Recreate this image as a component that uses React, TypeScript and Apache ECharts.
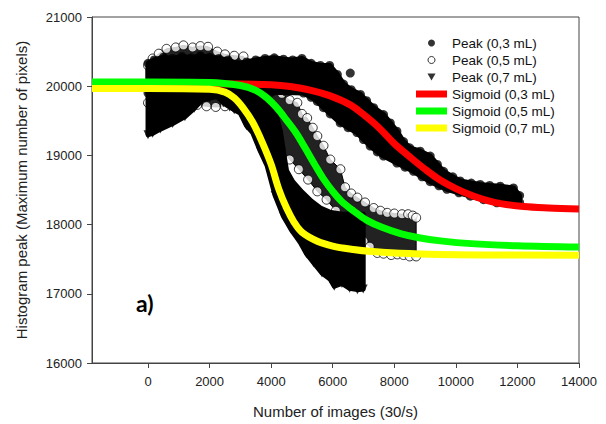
import React, { useEffect, useRef } from "react";
import * as echarts from "echarts";

type P = [number, number];

// ---- axes ----
const xMin = -1820;
const xMax = 14000;
const xTickValues = [0, 2000, 4000, 6000, 8000, 10000, 12000, 14000];
const yMin = 16000;
const yMax = 21000;
const yStep = 1000;

const xTitle = "Number of images (30/s)";
const yTitle = "Histogram peak (Maximum number of pixels)";
const panelLabel = "a)";

const peakNames = ["Peak (0,3 mL)", "Peak (0,5 mL)", "Peak (0,7 mL)"];
const sigmoidNames = ["Sigmoid (0,3 mL)", "Sigmoid (0,5 mL)", "Sigmoid (0,7 mL)"];

const peak03Upper: P[] = [[0,20330],[200,20380],[500,20420],[800,20400],[1100,20430],[1400,20410],[1700,20440],[2000,20420],[2300,20400],[2600,20380],[2900,20320],[3200,20350],[3500,20380],[3800,20400],[4100,20410],[4400,20390],[4700,20380],[5000,20400],[5300,20330],[5600,20300],[5900,20300],[6150,20170],[6350,20030],[6600,19950],[6900,19880],[7100,19790],[7330,19690],[7650,19590],[7870,19470],[8085,19350],[8300,19200],[8500,19110],[8840,19060],[9166,18990],[9400,18870],[9600,18770],[9900,18690],[10140,18630],[10500,18600],[10790,18580],[11100,18565],[11440,18555],[11870,18530],[12070,18420]];
const peak03Lower: P[] = [[0,19900],[400,19880],[800,19900],[1200,19890],[1600,19900],[2000,19900],[2500,19900],[3000,19900],[3500,19910],[4000,19910],[4500,19910],[5050,19900],[5300,19840],[5500,19780],[5700,19690],[5920,19600],[6244,19470],[6500,19400],[6786,19330],[7000,19230],[7218,19135],[7450,19050],[7650,18990],[8085,18890],[8350,18830],[8624,18770],[8900,18690],[9166,18620],[9450,18560],[9708,18510],[10100,18460],[10470,18410],[10900,18360],[11330,18315],[11700,18310],[12070,18320]];
const peak03Stray: P[] = [[6570,20190]];

const peak05Upper: P[] = [[0,20300],[150,20400],[350,20470],[600,20540],[900,20560],[1150,20590],[1450,20560],[1700,20580],[1950,20570],[2250,20500],[2500,20460],[2800,20440],[3100,20430],[3350,20320],[3650,20270],[3870,20120],[4100,20000],[4350,19890],[4600,19800],[4850,19760],[5000,19600],[5170,19540],[5350,19400],[5500,19280],[5700,19140],[5920,18940],[6250,18800],[6400,18540],[6600,18450],[6800,18390],[7050,18320],[7330,18240],[7550,18200],[7770,18170],[8000,18160],[8250,18150],[8450,18150],[8600,18130],[8710,18100]];
const peak05Lower: P[] = [[0,19760],[400,19780],[800,19780],[1200,19760],[1600,19730],[1900,19710],[2200,19700],[2500,19710],[2800,19700],[3100,19680],[3400,19550],[3700,19400],[4000,19250],[4300,19100],[4600,18940],[4900,18800],[5200,18650],[5500,18480],[5800,18360],[6100,18200],[6400,18050],[6700,17900],[7000,17760],[7200,17680],[7450,17590],[7650,17580],[7900,17560],[8100,17570],[8300,17560],[8500,17540],[8710,17540]];

const peak07Upper: P[] = [[0,20250],[500,20300],[1000,20300],[1500,20320],[2000,20300],[2500,20250],[3000,20100],[3300,20000],[3600,19900],[3900,19780],[4150,19600],[4300,19350],[4400,19050],[4500,18780],[4700,18620],[5000,18470],[5300,18340],[5600,18240],[5900,18180],[6300,18150],[6700,18150],[6990,18150]];
const peak07Lower: P[] = [[0,19300],[150,19320],[400,19380],[800,19460],[1200,19560],[1500,19680],[1750,19800],[2000,19830],[2250,19850],[2450,19760],[2650,19700],[2800,19660],[3000,19610],[3200,19430],[3400,19330],[3650,19060],[3870,18850],[4130,18420],[4400,18120],[4650,17930],[4950,17740],[5150,17580],[5380,17450],[5650,17300],[5920,17210],[6050,17110],[6300,17150],[6550,17080],[6800,17060],[6990,17070]];

// ---- fitted sigmoid curves ----
const sigmoid03: P[] = [[-1820,20030],[0,20030],[2000,20030],[3000,20030],[4000,20020],[4620,19995],[5300,19940],[5920,19860],[6570,19730],[7000,19590],[7500,19400],[8000,19170],[8500,18980],[9000,18800],[9500,18640],[10000,18520],[10500,18425],[11000,18350],[11500,18300],[12200,18260],[13000,18240],[14000,18225]];
const sigmoid05: P[] = [[-1820,20060],[0,20060],[2000,20055],[3000,20010],[3500,19940],[3866,19830],[4200,19680],[4500,19510],[4800,19330],[5100,19110],[5400,18880],[5700,18660],[6000,18480],[6300,18330],[6700,18190],[7100,18065],[7600,17960],[8200,17870],[8800,17810],[9500,17765],[10500,17725],[12000,17695],[14000,17675]];
const sigmoid07: P[] = [[-1820,19965],[0,19965],[2000,19955],[2500,19915],[2800,19830],[3100,19680],[3400,19480],[3700,19200],[4000,18870],[4250,18510],[4500,18240],[4750,18030],[5000,17890],[5500,17760],[6000,17690],[6600,17645],[7300,17610],[8200,17585],[9500,17568],[11000,17562],[14000,17558]];

const FONT = "'Liberation Sans', Arial, sans-serif";

function band(name: string, upper: P[], lower: P[], fill: string, stroke: string, lw: number, z: number) {
  return {
    type: "custom",
    name,
    z,
    silent: true,
    data: [upper[0]],
    renderItem: (_params: any, api: any) => {
      const pts = upper.concat(lower.slice().reverse()).map((p) => api.coord(p));
      return {
        type: "polygon",
        shape: { points: pts },
        style: { fill, stroke, lineWidth: lw, lineJoin: "round" },
      };
    },
  };
}

function sigmoidLine(name: string, data: P[], color: string) {
  return {
    type: "line",
    name,
    z: 8,
    silent: true,
    smooth: 0.35,
    showSymbol: false,
    symbol: "none",
    lineStyle: { color, width: 7 },
    itemStyle: { color },
    data,
  };
}

export default function App() {
  const ref = useRef<HTMLDivElement>(null);
  useEffect(() => {
    if (!ref.current) return;
    const chart = echarts.init(ref.current, null, { renderer: "svg" });
    const option: any = {
      animation: false,
      backgroundColor: "#ffffff",
      grid: { left: 92, right: 27, top: 17, bottom: 61, show: true, borderColor: "#444", borderWidth: 1, backgroundColor: "transparent" },
      xAxis: {
        type: "value",
        min: xMin,
        max: xMax,
        name: xTitle,
        nameLocation: "middle",
        nameGap: 41,
        nameTextStyle: { fontFamily: FONT, fontSize: 15, color: "#222" },
        axisLine: { show: true, onZero: false, lineStyle: { color: "#444", width: 1 } },
        axisTick: { show: true, length: 5, customValues: xTickValues, lineStyle: { color: "#444" } },
        axisLabel: { customValues: xTickValues, margin: 12, color: "#222", fontFamily: FONT, fontSize: 13, formatter: (v: number) => String(v) },
        splitLine: { show: false },
      },
      yAxis: {
        type: "value",
        min: yMin,
        max: yMax,
        interval: yStep,
        name: yTitle,
        nameLocation: "middle",
        nameGap: 63,
        nameTextStyle: { fontFamily: FONT, fontSize: 15, color: "#222" },
        axisLine: { show: true, onZero: false, lineStyle: { color: "#444", width: 1 } },
        axisTick: { show: true, length: 5, lineStyle: { color: "#444" } },
        axisLabel: { margin: 10, color: "#222", fontFamily: FONT, fontSize: 13, formatter: (v: number) => String(v) },
        splitLine: { show: false },
      },
      legend: {
        orient: "vertical",
        left: 411,
        top: 31,
        itemWidth: 31,
        itemHeight: 7,
        itemGap: 3,
        selectedMode: false,
        textStyle: { fontFamily: FONT, fontSize: 13.5, color: "#111", lineHeight: 14 },
        data: [
          { name: peakNames[0], icon: "circle", itemStyle: { color: "#000" } },
          { name: peakNames[1], icon: "circle", itemStyle: { color: "#fff", borderColor: "#000", borderWidth: 1 } },
          { name: peakNames[2], icon: "path://M0,0L10,0L5,8.66Z", itemStyle: { color: "#000" } },
          { name: sigmoidNames[0], icon: "rect", itemStyle: { color: "#ff0000" } },
          { name: sigmoidNames[1], icon: "rect", itemStyle: { color: "#00ff00" } },
          { name: sigmoidNames[2], icon: "rect", itemStyle: { color: "#ffff00" } },
        ],
      },
      graphic: [
        { type: "text", x: 136, y: 303, z: 100, style: { text: panelLabel, font: "bold 23px Lato, 'Open Sans', sans-serif", fill: "#000", verticalAlign: "middle", align: "left" } },
      ],
      series: [
        { type: "scatter", name: peakNames[0], z: 5, silent: true, symbol: "circle", symbolSize: 9, itemStyle: { color: "#000" }, data: [...peak03Upper, ...peak03Lower, ...peak03Stray] },
        { type: "scatter", name: peakNames[1], z: 3, silent: true, symbol: "circle", symbolSize: 9, itemStyle: { color: "#fff", borderColor: "#000", borderWidth: 1 }, data: [...peak05Upper, ...peak05Lower] },
        { type: "scatter", name: peakNames[2], z: 7, silent: true, symbol: "triangle", symbolRotate: 180, symbolSize: 9, itemStyle: { color: "#000" }, data: [...peak07Lower] },
        band(peakNames[1], peak05Upper, peak05Lower, "#222222", "#000", 1, 2),
        band(peakNames[0], peak03Upper, peak03Lower, "#000", "#000", 5, 4),
        band(peakNames[2], peak07Upper, peak07Lower, "#000", "#000", 5, 6),
        sigmoidLine(sigmoidNames[0], sigmoid03, "#ff0000"),
        sigmoidLine(sigmoidNames[1], sigmoid05, "#00ff00"),
        sigmoidLine(sigmoidNames[2], sigmoid07, "#ffff00"),
      ],
    };
    chart.setOption(option);
    return () => chart.dispose();
  }, []);
  return <div ref={ref} style={{ position: "fixed", left: 0, top: 0, width: 606, height: 424, background: "#fff" }} />;
}
